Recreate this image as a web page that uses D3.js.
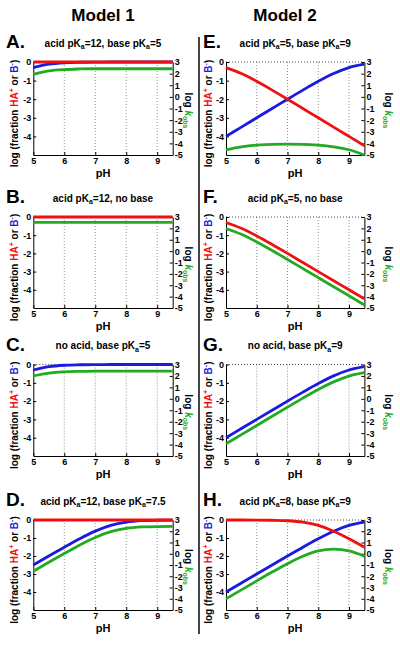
<!DOCTYPE html>
<html><head><meta charset="utf-8">
<script src="https://cdn.jsdelivr.net/npm/d3@7"></script>
<style>
html,body{margin:0;padding:0;background:#fff;}
svg{display:block;font-family:"Liberation Sans",Arial,sans-serif;}
</style></head>
<body><svg id="c" width="400" height="649"></svg>
<script>
// ---------------- data ----------------
const pH = [5, 5.5, 6, 6.5, 7, 7.5, 8, 8.5, 9, 9.5];
const xTicks = [5, 6, 7, 8, 9];
const leftTicks = [0, -1, -2, -3, -4];
const rightTicks = [3, 2, 1, 0, -1, -2, -3, -4, -5];
const modelTitles = ["Model 1", "Model 2"];
const panelLetters = ["A.", "B.", "C.", "D.", "E.", "F.", "G.", "H."];
const panelTitles = [
  "acid pKa=12, base pKa=5", "acid pKa=12, no base", "no acid, base pKa=5", "acid pKa=12, base pKa=7.5",
  "acid pKa=5, base pKa=9", "acid pKa=5, no base", "no  acid, base pKa=9", "acid pKa=8, base pKa=9"
];
// log fraction HA+ (left axis)
const redA = [0, 0, 0, 0, 0, 0, 0, 0, 0, 0];
const redB = [0, 0, 0, 0, 0, 0, 0, 0, 0, 0];
const redD = [0, 0, 0, 0, 0, 0, 0, 0, 0, 0];
const redE = [-0.30, -0.62, -1.04, -1.51, -2.0, -2.5, -3.0, -3.5, -4.0, -4.5];
const redF = [-0.30, -0.62, -1.04, -1.51, -2.0, -2.5, -3.0, -3.5, -4.0, -4.5];
const redH = [0, -0.001, -0.004, -0.014, -0.041, -0.12, -0.30, -0.62, -1.04, -1.51];
// log fraction B- (left axis)
const blueA = [-0.30, -0.12, -0.04, -0.014, -0.004, -0.001, 0, 0, 0, 0];
const blueC = [-0.30, -0.12, -0.04, -0.014, -0.004, -0.001, 0, 0, 0, 0];
const blueD = [-2.5, -2.0, -1.51, -1.04, -0.62, -0.30, -0.12, -0.04, -0.014, -0.004];
const blueE = [-4.0, -3.5, -3.0, -2.5, -2.0, -1.51, -1.04, -0.62, -0.30, -0.12];
const blueG = [-4.0, -3.5, -3.0, -2.5, -2.0, -1.51, -1.04, -0.62, -0.30, -0.12];
const blueH = [-4.0, -3.5, -3.0, -2.5, -2.0, -1.51, -1.04, -0.62, -0.30, -0.12];
// log kobs (right axis)
const greenA = [1.94, 2.23, 2.35, 2.40, 2.42, 2.42, 2.42, 2.42, 2.42, 2.42];
const greenB = [2.52, 2.52, 2.52, 2.52, 2.52, 2.52, 2.52, 2.52, 2.52, 2.52];
const greenC = [2.0, 2.25, 2.36, 2.40, 2.42, 2.42, 2.42, 2.42, 2.42, 2.42];
const greenD = [-1.56, -0.76, 0.02, 0.78, 1.45, 1.96, 2.25, 2.38, 2.42, 2.43];
const greenE = [-4.55, -4.3, -4.15, -4.08, -4.07, -4.08, -4.15, -4.3, -4.55, -5.0];
const greenF = [1.99, 1.48, 0.81, 0.06, -0.73, -1.53, -2.33, -3.13, -3.93, -4.73];
const greenG = [-3.93, -3.13, -2.33, -1.53, -0.73, 0.06, 0.81, 1.48, 1.99, 2.28];
const greenH = [-4.01, -3.21, -2.41, -1.63, -0.88, -0.22, 0.25, 0.41, 0.25, -0.22];

const redSeries = [redA, redB, null, redD, redE, redF, null, redH];
const blueSeries = [blueA, null, blueC, blueD, blueE, null, blueG, blueH];
const greenSeries = [greenA, greenB, greenC, greenD, greenE, greenF, greenG, greenH];

// ---------------- layout ----------------
const RED = "#f01010", BLUE = "#1a1ae0", GREEN = "#22aa22";
const cols = [
  {x0: 33.3, x1: 172.7, ylab: 18, rlab: 185, letterX: 6, head: 103},
  {x0: 226, x1: 364.4, ylab: 212, rlab: 385, letterX: 203, head: 285}
];
const rows = [
  {top: 62, bot: 155}, {top: 217, bot: 308}, {top: 364.5, bot: 456}, {top: 520, bot: 610}
];

const svg = d3.select("#c");

modelTitles.forEach((t, i) => {
  svg.append("text").attr("x", cols[i].head).attr("y", 21)
    .attr("text-anchor", "middle").attr("font-size", 17).attr("font-weight", "bold").text(t);
});

// divider
svg.append("line").attr("x1", 199).attr("x2", 199).attr("y1", 37).attr("y2", 634)
  .attr("stroke", "#444").attr("stroke-width", 2);

function addPk(sel, str) {
  const parts = str.split("pKa");
  parts.forEach((p, i) => {
    if (i > 0) {
      sel.append("tspan").text("pK");
      sel.append("tspan").attr("font-size", 7).attr("dy", 2.5).text("a");
      sel.append("tspan").attr("dy", -2.5).text(p);
    } else sel.append("tspan").text(p);
  });
}

for (let k = 0; k < 8; k++) {
  const c = cols[Math.floor(k / 4)], r = rows[k % 4];
  const x = d3.scaleLinear().domain([5, 9.5]).range([c.x0, c.x1]);
  const yL = d3.scaleLinear().domain([-5, 0]).range([r.bot, r.top]);
  const yR = d3.scaleLinear().domain([-5, 3]).range([r.bot, r.top]);
  const g = svg.append("g");

  // grid
  g.selectAll(".vg").data([6, 7, 8, 9]).enter().append("line")
    .attr("x1", d => x(d)).attr("x2", d => x(d)).attr("y1", r.top).attr("y2", r.bot)
    .attr("stroke", "#777").attr("stroke-width", 0.8).attr("stroke-dasharray", "1,2");
  g.append("line").attr("x1", x(5)).attr("x2", x(9.5)).attr("y1", yL(0)).attr("y2", yL(0))
    .attr("stroke", "#333").attr("stroke-width", 0.9).attr("stroke-dasharray", "1,2");

  const fmt = d => String(d);
  const ax = g.append("g").attr("transform", `translate(0,${r.bot})`)
    .call(d3.axisBottom(x).tickValues(xTicks).tickSizeInner(-3).tickSizeOuter(0).tickPadding(3).tickFormat(fmt));
  const al = g.append("g").attr("transform", `translate(${c.x0},0)`)
    .call(d3.axisLeft(yL).tickValues(leftTicks).tickSizeInner(-3).tickSizeOuter(0).tickPadding(2).tickFormat(fmt));
  const ar = g.append("g").attr("transform", `translate(${c.x1},0)`)
    .call(d3.axisRight(yR).tickValues(rightTicks).tickSizeInner(-3).tickSizeOuter(0).tickPadding(2).tickFormat(fmt));
  [ax, al, ar].forEach(a => {
    a.selectAll("text").attr("font-size", 9).attr("font-weight", "bold").attr("fill", "#000")
      .attr("font-family", "'Liberation Sans',Arial,sans-serif");
    a.selectAll("path,line").attr("stroke", "#000").attr("stroke-width", 1);
  });

  // curves
  const lineL = d3.line().x((d, i) => x(pH[i])).y(d => yL(d)).curve(d3.curveMonotoneX);
  const lineR = d3.line().x((d, i) => x(pH[i])).y(d => yR(d)).curve(d3.curveMonotoneX);
  if (blueSeries[k]) g.append("path").attr("d", lineL(blueSeries[k])).attr("fill", "none")
    .attr("stroke", BLUE).attr("stroke-width", 2.8);
  if (redSeries[k]) g.append("path").attr("d", lineL(redSeries[k])).attr("fill", "none")
    .attr("stroke", RED).attr("stroke-width", 2.8);
  if (greenSeries[k]) g.append("path").attr("d", lineR(greenSeries[k])).attr("fill", "none")
    .attr("stroke", GREEN).attr("stroke-width", 2.8);

  // letters and titles
  svg.append("text").attr("x", c.letterX).attr("y", r.top - 14).attr("font-size", 19)
    .attr("font-weight", "bold").text(panelLetters[k]);
  const tt = svg.append("text").attr("x", (c.x0 + c.x1) / 2).attr("y", r.top - 15.5)
    .attr("text-anchor", "middle").attr("font-size", 10).attr("font-weight", "bold");
  addPk(tt, panelTitles[k]);

  // pH label
  svg.append("text").attr("x", (c.x0 + c.x1) / 2).attr("y", r.bot + 21.5)
    .attr("text-anchor", "middle").attr("font-size", 11).attr("font-weight", "bold").text("pH");

  // left y label
  const cy = (r.top + r.bot) / 2;
  const yl = svg.append("text").attr("transform", `translate(${c.ylab},${cy + 5}) rotate(-90)`)
    .attr("text-anchor", "middle").attr("font-size", 10).attr("font-weight", "bold");
  yl.append("tspan").text("log (fraction ");
  yl.append("tspan").attr("fill", RED).text("HA");
  yl.append("tspan").attr("fill", RED).attr("font-size", 7).attr("dy", -4).text("+");
  yl.append("tspan").attr("dy", 4).text(" or ");
  yl.append("tspan").attr("fill", BLUE).text("B");
  yl.append("tspan").attr("fill", BLUE).attr("font-size", 7).attr("dy", -4).text("-");
  yl.append("tspan").attr("dy", 4).text(")");

  // right y label
  const rl = svg.append("text").attr("transform", `translate(${c.rlab},${cy + 2}) rotate(90)`)
    .attr("text-anchor", "middle").attr("font-size", 10).attr("font-weight", "bold");
  rl.append("tspan").text("log ");
  rl.append("tspan").attr("fill", GREEN).attr("font-style", "italic").text("k");
  rl.append("tspan").attr("fill", GREEN).attr("font-size", 7).attr("dy", 2.5).text("obs");
}
</script></body></html>
